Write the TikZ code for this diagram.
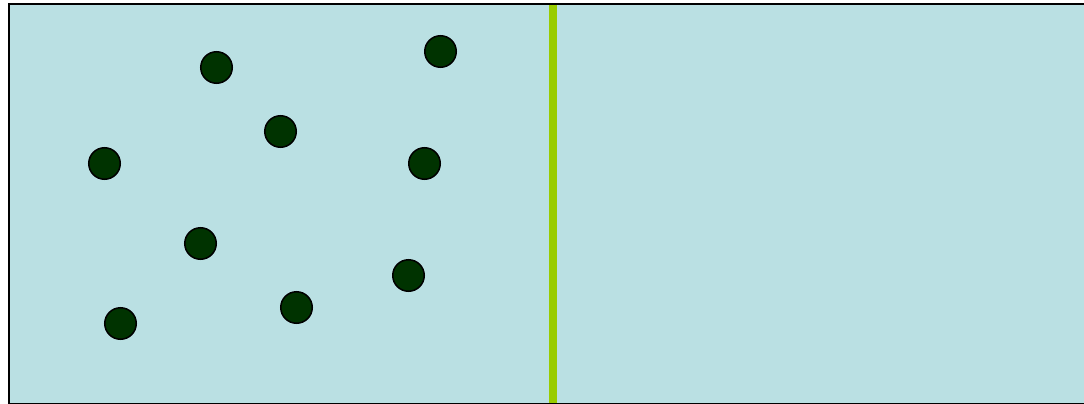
\documentclass[tikz,border=0pt]{standalone}
\definecolor{pool}{RGB}{186,224,227}
\definecolor{bar}{RGB}{153,204,0}
\definecolor{ball}{RGB}{0,51,0}
\tikzset{
  particle/.style={circle,draw=black,line width=1.5pt,fill=ball,minimum size=31.5pt,inner sep=0pt},
}
\begin{document}
\begin{tikzpicture}[x=1pt,y=-1pt]
\useasboundingbox (0,0) rectangle (1084,404);
\begin{scope}
\clip (0,0) rectangle (1084,404);
\fill[pool] (9,4) rectangle (1090,404);
\fill[bar] (549,4) rectangle (557,404);
\draw[line width=2pt] (1090,4) -- (9,4) -- (9,404) -- (1090,404);
\end{scope}
\begin{scope}[shift={(-0.5,0.5)}]
\node[particle] (p1) at (217,67) {};
\node[particle] (p2) at (441,51) {};
\node[particle] (p3) at (281,131) {};
\node[particle] (p4) at (105,163) {};
\node[particle] (p5) at (425,163) {};
\node[particle] (p6) at (201,243) {};
\node[particle] (p7) at (409,275) {};
\node[particle] (p8) at (297,307) {};
\node[particle] (p9) at (121,323) {};
\end{scope}
\end{tikzpicture}
\end{document}
